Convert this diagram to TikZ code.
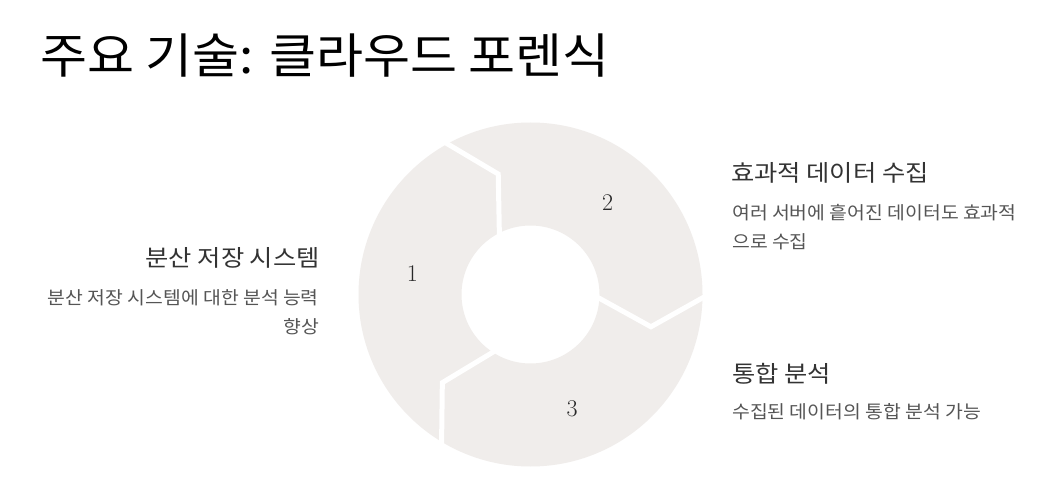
\documentclass[tikz,border=0pt]{standalone}
\usepackage{fontspec}
\newfontfamily\krtitle[FakeStretch=1.065]{Noto Sans CJK KR}
\newfontfamily\krhead[FakeStretch=1.1]{Noto Sans CJK KR}
\newfontfamily\krbody[FakeStretch=1.075]{Noto Sans CJK KR}
\definecolor{ringfill}{RGB}{240,237,235}
\definecolor{headc}{RGB}{51,51,51}
\definecolor{bodyc}{RGB}{85,85,85}
\definecolor{numc}{RGB}{40,40,40}
\tikzset{
  titletext/.style={inner sep=0pt, font=\krtitle\fontsize{48}{52}\selectfont, text=black},
  headtext/.style={inner sep=0pt, font=\krhead\fontsize{23}{27}\selectfont, text=headc},
  bodytext/.style={inner sep=0pt, font=\krbody\fontsize{18}{24}\selectfont, text=bodyc},
  numtext/.style={inner sep=0pt, font=\fontsize{24}{28}\selectfont, text=numc},
  gapline/.style={draw=white, line width=5pt, line join=miter}
}
\begin{document}
\begin{tikzpicture}[x=1pt,y=-1pt]
\useasboundingbox (0,0) rectangle (1052,494);
\fill[white] (0,0) rectangle (1052,494);
\node[titletext, anchor=west] (title) at (40,56) {주요 기술: 클라우드 포렌식};
\begin{scope}[shift={(530.5,294.5)}, y=1pt]
  \fill[ringfill, even odd rule] (0,0) circle (172pt) (0,0) circle (69pt);
  \coordinate (o12) at (120:178); \coordinate (t12) at (105:124.7); \coordinate (i12) at (120:62);
  \coordinate (o23) at (0:178);   \coordinate (t23) at (-15:124.7); \coordinate (i23) at (0:62);
  \coordinate (o31) at (240:178); \coordinate (t31) at (225:124.7); \coordinate (i31) at (240:62);
  \draw[gapline] (o12) -- (t12) -- (i12);
  \draw[gapline] (o23) -- (t23) -- (i23);
  \draw[gapline] (o31) -- (t31) -- (i31);
  \node[numtext] (n1) at (170:120) {1};
  \node[numtext] (n2) at (50:120) {2};
  \node[numtext] (n3) at (-70:122) {3};
\end{scope}
\node[headtext, anchor=west] (h2) at (731,173) {효과적 데이터 수집};
\node[bodytext, anchor=west] (b2a) at (732,213) {여러 서버에 흩어진 데이터도 효과적};
\node[bodytext, anchor=west] (b2b) at (732,242) {으로 수집};
\node[headtext, anchor=west] (h3) at (732,374) {통합 분석};
\node[bodytext, anchor=west] (b3) at (732,412) {수집된 데이터의 통합 분석 가능};
\node[headtext, anchor=east] (h1) at (320,258) {분산 저장 시스템};
\node[bodytext, anchor=east] (b1a) at (319,298) {분산 저장 시스템에 대한 분석 능력};
\node[bodytext, anchor=east] (b1b) at (319,327) {향상};
\end{tikzpicture}
\end{document}
